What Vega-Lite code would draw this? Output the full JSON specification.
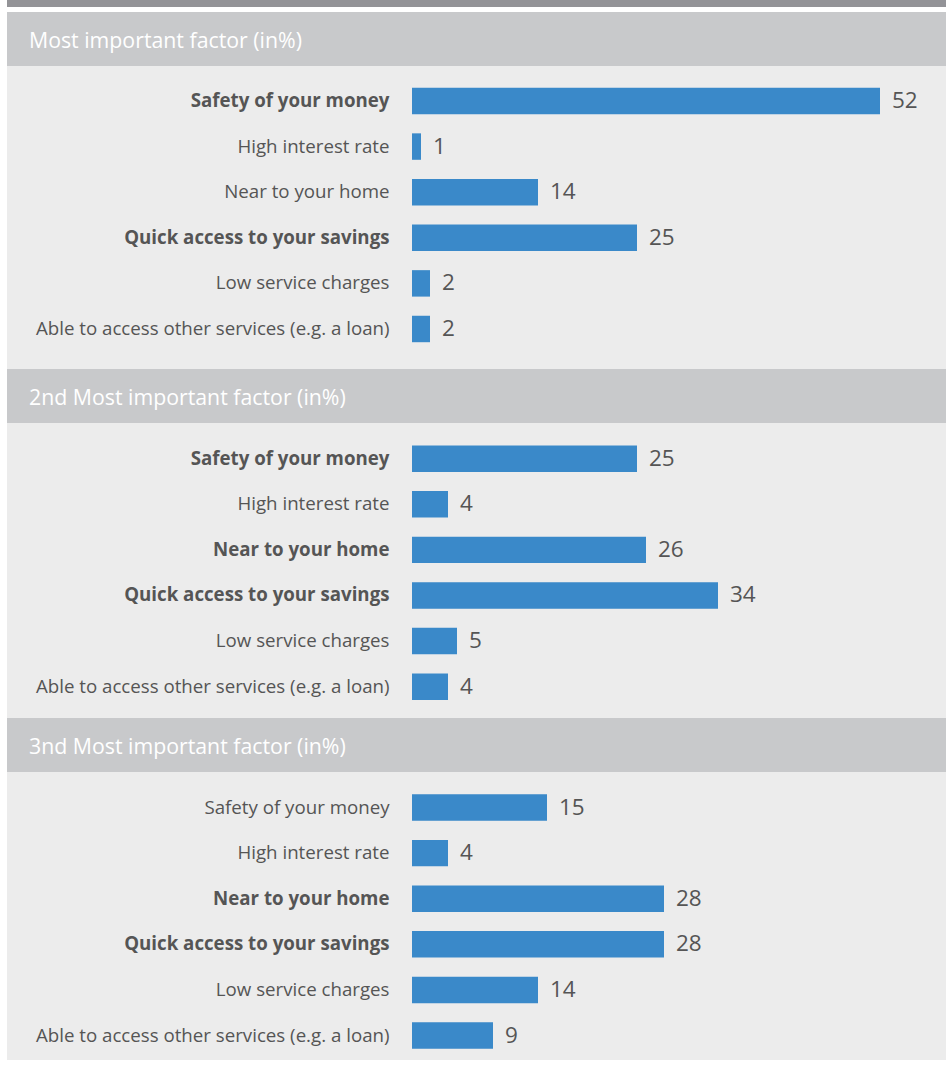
{
  "$schema": "https://vega.github.io/schema/vega-lite/v6.json",
  "background": "white",
  "padding": {"left": 7, "top": 0, "right": 0, "bottom": 0},
  "autosize": {"type": "pad"},
  "config": {
    "view": {"stroke": null},
    "font": "Open Sans",
    "title": {"font": "Open Sans", "color": "white", "fontSize": 21.3, "fontWeight": "normal", "anchor": "start", "frame": "group", "orient": "top", "offset": -40, "baseline": "middle", "dx": 22}
  },
  "datasets": {
    "factors": [
      {"panel": 1, "factor": "Safety of your money", "pct": 52},
      {"panel": 1, "factor": "High interest rate", "pct": 1},
      {"panel": 1, "factor": "Near to your home", "pct": 14},
      {"panel": 1, "factor": "Quick access to your savings", "pct": 25},
      {"panel": 1, "factor": "Low service charges", "pct": 2},
      {"panel": 1, "factor": "Able to access other services (e.g. a loan)", "pct": 2},
      {"panel": 2, "factor": "Safety of your money", "pct": 25},
      {"panel": 2, "factor": "High interest rate", "pct": 4},
      {"panel": 2, "factor": "Near to your home", "pct": 26},
      {"panel": 2, "factor": "Quick access to your savings", "pct": 34},
      {"panel": 2, "factor": "Low service charges", "pct": 5},
      {"panel": 2, "factor": "Able to access other services (e.g. a loan)", "pct": 4},
      {"panel": 3, "factor": "Safety of your money", "pct": 15},
      {"panel": 3, "factor": "High interest rate", "pct": 4},
      {"panel": 3, "factor": "Near to your home", "pct": 28},
      {"panel": 3, "factor": "Quick access to your savings", "pct": 28},
      {"panel": 3, "factor": "Low service charges", "pct": 14},
      {"panel": 3, "factor": "Able to access other services (e.g. a loan)", "pct": 9}
    ]
  },
  "vconcat": [
    {
      "width": 939, "height": 7,
      "view": {"fill": "#939397", "stroke": null},
      "data": {"values": []},
      "mark": "text",
      "encoding": {}
    },
    {
      "spacing": 0,
      "vconcat": [
        {
          "width": 939, "height": 54,
          "view": {"fill": "#c8c9cb", "stroke": null},
          "title": "Most important factor (in%)",
          "data": {"values": []},
          "mark": "text",
          "encoding": {}
        },
        {
          "width": 939, "height": 303,
          "view": {"fill": "#ececec", "stroke": null},
          "data": {"name": "factors"},
          "transform": [{"filter": "datum.panel == 1"}],
          "encoding": {
            "y": {"field": "factor", "type": "nominal", "sort": null,
              "scale": {"paddingInner": 0.42, "paddingOuter": 0.532, "align": 0.448},
              "axis": {"title": null, "orient": "left", "offset": -382, "domain": false, "ticks": false, "labelPadding": 0, "labelLimit": 0, "labelFontSize": 18.7, "labelColor": "#555555", "labelFont": "Open Sans",
                "labelFontWeight": {"condition": {"test": "indexof(['Safety of your money','Quick access to your savings'], datum.value) >= 0", "value": "bold"}, "value": "normal"}}},
            "x": {"field": "pct", "type": "quantitative", "scale": {"domain": [0, 59], "range": [405, 936]}, "axis": null}
          },
          "layer": [
            {"mark": {"type": "bar", "color": "#3a89c9"}},
            {"mark": {"type": "text", "align": "left", "baseline": "middle", "dx": 12, "fontSize": 22.5, "color": "#555555", "font": "Open Sans"},
             "encoding": {"text": {"field": "pct", "type": "quantitative"}}}
          ]
        },
        {
          "width": 939, "height": 54,
          "view": {"fill": "#c8c9cb", "stroke": null},
          "title": "2nd Most important factor (in%)",
          "data": {"values": []},
          "mark": "text",
          "encoding": {}
        },
        {
          "width": 939, "height": 295,
          "view": {"fill": "#ececec", "stroke": null},
          "data": {"name": "factors"},
          "transform": [{"filter": "datum.panel == 2"}],
          "encoding": {
            "y": {"field": "factor", "type": "nominal", "sort": null,
              "scale": {"paddingInner": 0.42, "paddingOuter": 0.444, "align": 0.554},
              "axis": {"title": null, "orient": "left", "offset": -382, "domain": false, "ticks": false, "labelPadding": 0, "labelLimit": 0, "labelFontSize": 18.7, "labelColor": "#555555", "labelFont": "Open Sans",
                "labelFontWeight": {"condition": {"test": "indexof(['Safety of your money','Near to your home','Quick access to your savings'], datum.value) >= 0", "value": "bold"}, "value": "normal"}}},
            "x": {"field": "pct", "type": "quantitative", "scale": {"domain": [0, 59], "range": [405, 936]}, "axis": null}
          },
          "layer": [
            {"mark": {"type": "bar", "color": "#3a89c9"}},
            {"mark": {"type": "text", "align": "left", "baseline": "middle", "dx": 12, "fontSize": 22.5, "color": "#555555", "font": "Open Sans"},
             "encoding": {"text": {"field": "pct", "type": "quantitative"}}}
          ]
        },
        {
          "width": 939, "height": 54,
          "view": {"fill": "#c8c9cb", "stroke": null},
          "title": "3nd Most important factor (in%)",
          "data": {"values": []},
          "mark": "text",
          "encoding": {}
        },
        {
          "width": 939, "height": 288,
          "view": {"fill": "#ececec", "stroke": null},
          "data": {"name": "factors"},
          "transform": [{"filter": "datum.panel == 3"}],
          "encoding": {
            "y": {"field": "factor", "type": "nominal", "sort": null,
              "scale": {"paddingInner": 0.42, "paddingOuter": 0.368, "align": 0.664},
              "axis": {"title": null, "orient": "left", "offset": -382, "domain": false, "ticks": false, "labelPadding": 0, "labelLimit": 0, "labelFontSize": 18.7, "labelColor": "#555555", "labelFont": "Open Sans",
                "labelFontWeight": {"condition": {"test": "indexof(['Near to your home','Quick access to your savings'], datum.value) >= 0", "value": "bold"}, "value": "normal"}}},
            "x": {"field": "pct", "type": "quantitative", "scale": {"domain": [0, 59], "range": [405, 936]}, "axis": null}
          },
          "layer": [
            {"mark": {"type": "bar", "color": "#3a89c9"}},
            {"mark": {"type": "text", "align": "left", "baseline": "middle", "dx": 12, "fontSize": 22.5, "color": "#555555", "font": "Open Sans"},
             "encoding": {"text": {"field": "pct", "type": "quantitative"}}}
          ]
        }
      ]
    }
  ],
  "spacing": 5
}
